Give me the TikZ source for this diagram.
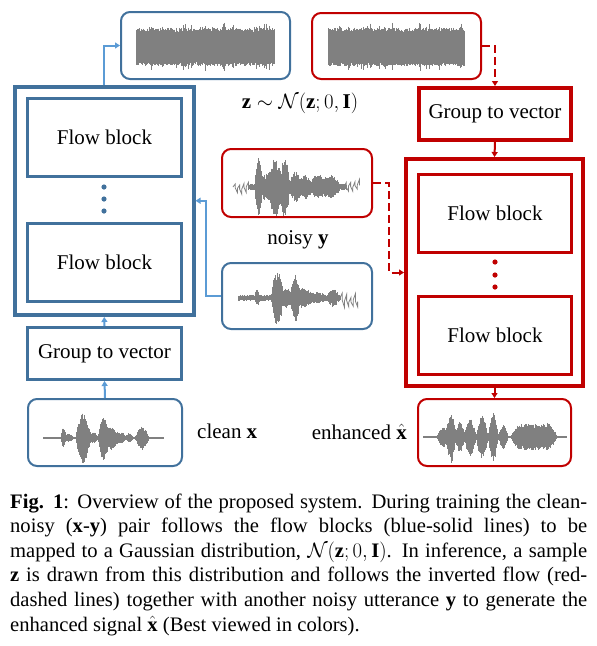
\documentclass[tikz,border=0pt]{standalone}
\usepackage{fontspec}
\setmainfont{Liberation Serif}
\usetikzlibrary{arrows.meta}
\definecolor{bbox}{HTML}{41719C}
\definecolor{barr}{HTML}{5B9BD5}
\definecolor{rbox}{HTML}{C00000}
\definecolor{wgray}{HTML}{808080}
\newcommand\wavefill[6]{% #1 x0, #2 steps, #3 yc, #4 envelope in \wu, #5 seed, #6 min factor
  \pgfmathsetseed{#5}%
  \foreach \wi in {0,...,#2}{%
    \pgfmathsetmacro\wu{0.5*\wi}%
    \pgfmathsetmacro\we{#4}%
    \pgfmathsetmacro\wa{\we*(#6+(1-#6)*rnd)}%
    \pgfmathsetmacro\wb{\we*(#6+(1-#6)*rnd)}%
    \draw[wavel] (#1+\wu,#3-\wa) -- (#1+\wu,#3+\wb);
  }%
}
\newcommand\zigzag[5]{% #1 x0, #2 number of teeth, #3 yc, #4 amplitude, #5 seed
  \pgfmathsetseed{#5}%
  \draw[wgray,line width=0.8pt] (#1,#3) \foreach \k in {1,...,#2}{ -- ++(2.2,{(-1)^\k*#4*(0.5+0.5*rnd)}) -- ++(0,{-(-1)^\k*#4*(0.5+0.5*rnd)})};
}
\begin{document}
\begin{tikzpicture}[x=1pt,y=-1pt,
  declare function={bump(\pa,\pb,\pc)=(abs(\pa-\pb)<\pc)*cos(90*(\pa-\pb)/\pc);},
  wavel/.style={draw=wgray,line width=0.8pt},
  lbl/.style={font=\fontsize{21}{25}\selectfont,inner sep=0pt},
  wbox/.style={line width=2pt,rounded corners=9pt,minimum width=#1,minimum height=67pt,inner sep=0pt},
  midbox/.style={line width=3pt,inner sep=0pt,font=\fontsize{21}{25}\selectfont},
  outbox/.style={line width=4pt,inner sep=0pt},
  barrow/.style={draw=barr,line width=2pt,-{Triangle[length=5pt,width=6pt]}},
  rarrow/.style={draw=rbox,line width=2pt,-{Triangle[length=5pt,width=6pt]}},
  rdash/.style={rarrow,dash pattern=on 8pt off 4pt}]
\useasboundingbox (0,0) rectangle (597,646);

% ---------- blue (training) side ----------
\node[wbox=169pt,draw=bbox] (bz) at (205.5,45.5) {};
\node[outbox,draw=bbox,minimum width=178.5pt,minimum height=228.5pt] (bout) at (104.25,200.75) {};
\node[midbox,draw=bbox,minimum width=154pt,minimum height=78pt] (bfb1) at (104.5,137) {Flow block};
\node[midbox,draw=bbox,minimum width=154pt,minimum height=78pt] (bfb2) at (104.5,262.5) {Flow block};
\node[midbox,draw=bbox,minimum width=154pt,minimum height=52pt] (bgtv) at (104.5,353.5) {Group to vector};
\node[wbox=154pt,draw=bbox] (bclean) at (105,432.5) {};
\node[wbox=150pt,draw=bbox,minimum height=66pt] (bnoisy) at (297,296) {};
\foreach \yy in {187,199,211} \fill[bbox] (104,\yy) circle[radius=2.6pt];

% ---------- red (inference) side ----------
\node[wbox=169pt,draw=rbox,minimum height=66pt] (rz) at (396.5,46) {};
\node[midbox,line width=4pt,draw=rbox,minimum width=152pt,minimum height=52pt] (rgtv) at (495,114) {Group to vector};
\node[outbox,draw=rbox,minimum width=177pt,minimum height=227pt] (rout) at (494.5,272.5) {};
\node[midbox,draw=rbox,minimum width=153pt,minimum height=78pt] (rfb1) at (495,213.5) {Flow block};
\node[midbox,draw=rbox,minimum width=153pt,minimum height=78pt] (rfb2) at (495,335.5) {Flow block};
\node[wbox=150pt,draw=rbox,minimum height=68pt] (rnoisy) at (297,183) {};
\node[wbox=153pt,draw=rbox] (renh) at (494.5,432.5) {};
\foreach \yy in {262,275,287} \fill[rbox] (495,\yy) circle[radius=2.6pt];

% ---------- labels ----------
\node[lbl] (zlab) at (300,103) {$\mathbf{z}\sim\mathcal{N}(\mathbf{z};0,\mathbf{I})$};
\node[lbl] (ylab) at (298,240) {noisy \textbf{y}};
\node[lbl,anchor=west] (xlab) at (197,431) {clean \textbf{x}};
\node[lbl,anchor=east] (elab) at (407,432) {enhanced $\hat{\mathbf{x}}$};

% ---------- connectors ----------
\draw[barrow] (bout.north) |- (bz.west);
\draw[barrow] (bnoisy.west) -- ++(-15,0) |- (bout.east);
\draw[barrow] (bgtv.north) -- (bout.south);
\draw[barrow] (bclean.north) -- (bgtv.south);
\draw[rdash] (rz.east) -| (rgtv.north);
\draw[rarrow] (rgtv.south) -- (rout.north);
\draw[rdash] (rnoisy.east) -- ++(16,0) |- (rout.west);
\draw[rarrow] (rout.south) -- (renh.north);

% ---------- waveforms ----------
% latent noise (blue and red)
\wavefill{136}{276}{47}{19+6*(rnd>0.85)*rnd}{11}{0.8}
\wavefill{328}{272}{47}{19+6*(rnd>0.85)*rnd}{23}{0.8}
% clean x
\wavefill{43}{240}{438}{0.8+9*bump(\wu,20,2.5)+3*bump(\wu,25,6)+25*bump(\wu,40,7.5)+5*bump(\wu,50,5)+21*bump(\wu,60,5)+11*bump(\wu,68,8)+5*bump(\wu,78,5)+4*bump(\wu,86,4)+11*bump(\wu,99,7)}{5}{0.68}
% enhanced
\wavefill{423}{286}{437}{1+9*bump(\wu,20,6)+25*bump(\wu,28,5)+15*bump(\wu,37,5)+18*bump(\wu,47,6)+21*bump(\wu,59,6)+24*bump(\wu,70,5)+11*bump(\wu,80,5)+12*bump(\wu,97,9)+13*bump(\wu,108,9)+12*bump(\wu,120,9)+8*bump(\wu,128,6)}{7}{0.68}
% noisy y (red box)
\zigzag{233}{7}{187}{6}{31}
\zigzag{344}{7}{187}{6}{32}
\wavefill{248}{196}{187}{3+22*bump(\wu,10,3.5)+10*bump(\wu,16,9)+18*bump(\wu,27,6)+21*bump(\wu,37,5)+10*bump(\wu,30,13)+13*bump(\wu,47,6)+9*bump(\wu,57,7)+10*bump(\wu,70,9)+9*bump(\wu,83,9)}{3}{0.55}
% noisy y (blue box)
\wavefill{238}{204}{298}{3+6*bump(\wu,19,2.5)+25*bump(\wu,39,6)+7*bump(\wu,48,7)+19*bump(\wu,57,5)+7*bump(\wu,65,9)+3*bump(\wu,78,10)+6*bump(\wu,95,6)}{9}{0.55}
\zigzag{340}{8}{298}{8}{41}

% ---------- caption ----------
\node[anchor=base west,inner sep=0pt,align=left,font=\fontsize{20.6}{24.6}\selectfont] (cap) at (10,631) {%
\makebox[577pt][s]{\textbf{Fig. 1}: Overview of the proposed system. During training the clean-}\\
\makebox[577pt][s]{noisy (\textbf{x}-\textbf{y}) pair follows the flow blocks (blue-solid lines) to be}\\
\makebox[577pt][s]{mapped to a Gaussian distribution, $\mathcal{N}(\mathbf{z}; 0, \mathbf{I})$. In inference, a sample}\\
\makebox[577pt][s]{\textbf{z} is drawn from this distribution and follows the inverted flow (red-}\\
\makebox[577pt][s]{dashed lines) together with another noisy utterance \textbf{y} to generate the}\\
enhanced signal $\hat{\mathbf{x}}$ (Best viewed in colors).};
\end{tikzpicture}
\end{document}
